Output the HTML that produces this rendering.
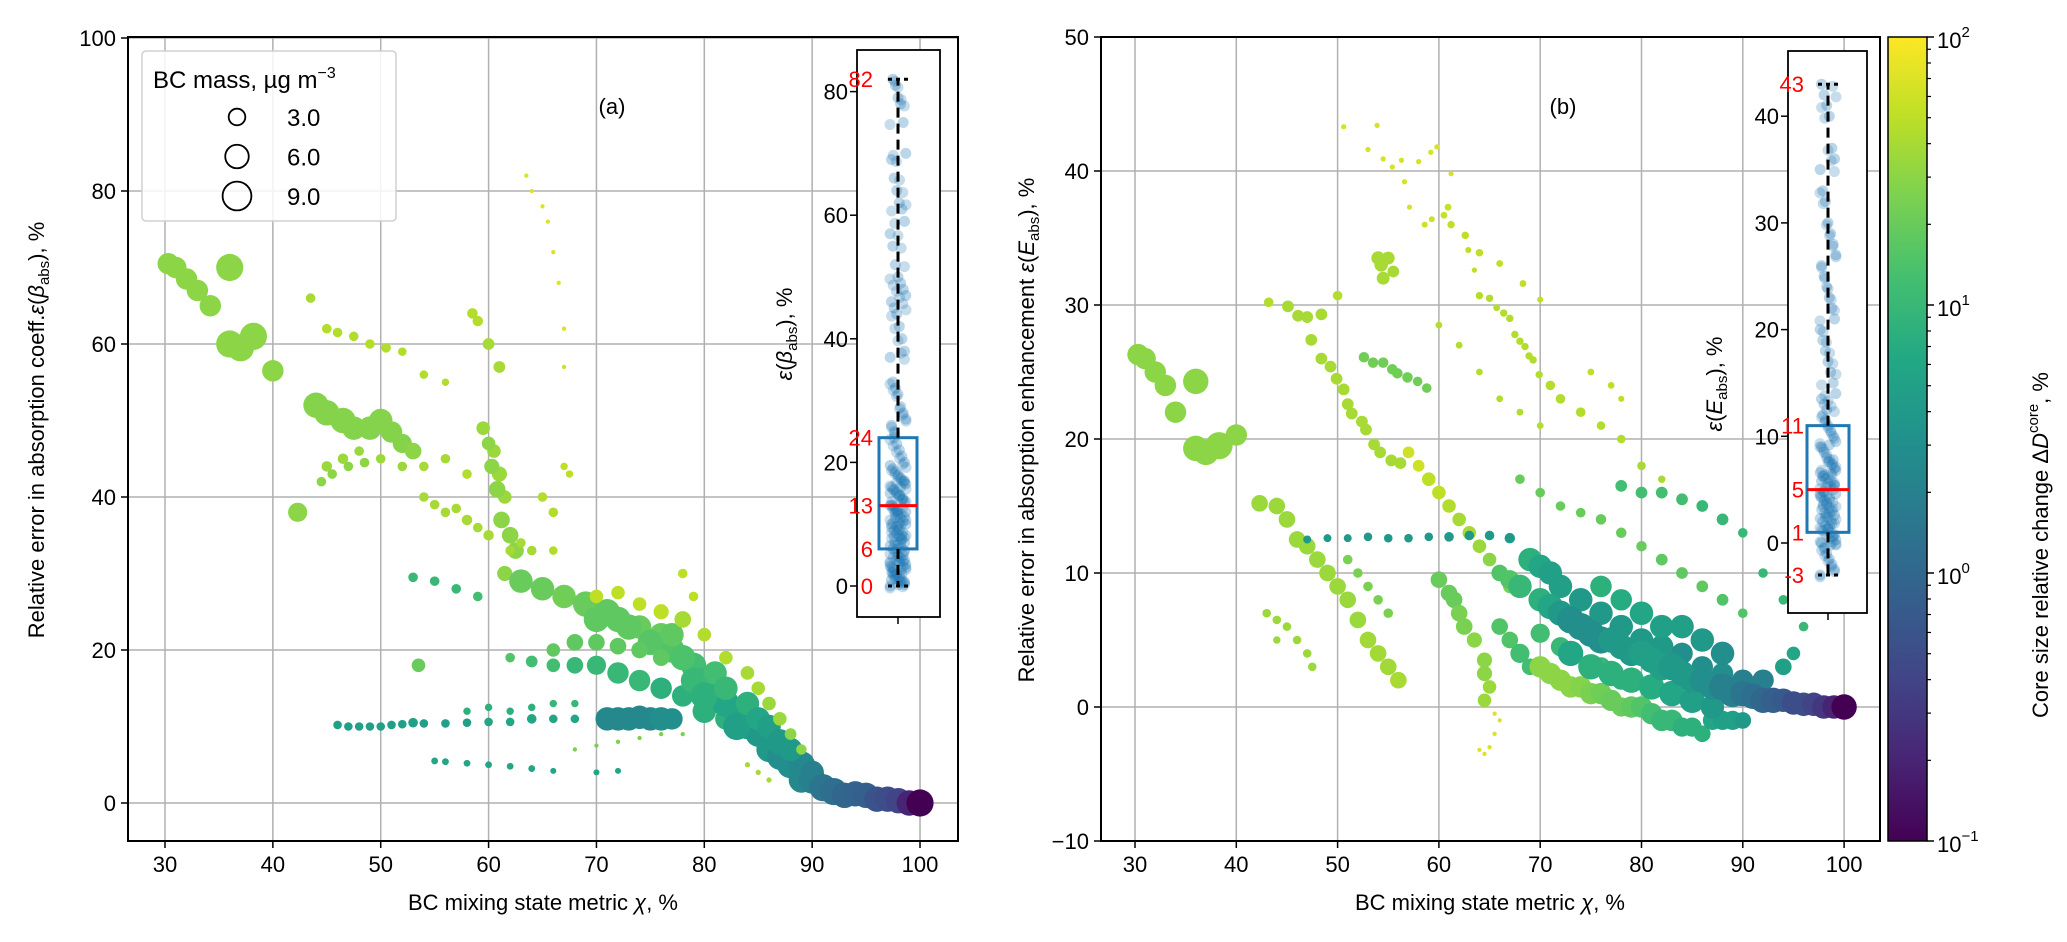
<!DOCTYPE html>
<html><head><meta charset="utf-8"><style>
html,body{margin:0;padding:0;background:#fff;}
svg{display:block;font-family:"Liberation Sans","DejaVu Sans",sans-serif;}
</style></head><body>
<svg id="fig" width="2067" height="942" viewBox="0 0 2067 942" xmlns="http://www.w3.org/2000/svg">
<defs>
<clipPath id="clipA"><rect x="128" y="37" width="830" height="804"/></clipPath>
<clipPath id="clipB"><rect x="1101" y="37" width="779" height="804"/></clipPath>
<linearGradient id="vir" x1="0" y1="1" x2="0" y2="0">
<stop offset="0" stop-color="#440154"/><stop offset="0.1" stop-color="#482475"/><stop offset="0.2" stop-color="#414487"/><stop offset="0.3" stop-color="#355f8d"/><stop offset="0.4" stop-color="#2a788e"/><stop offset="0.5" stop-color="#21918c"/><stop offset="0.6" stop-color="#22a884"/><stop offset="0.7" stop-color="#44bf70"/><stop offset="0.8" stop-color="#7ad151"/><stop offset="0.9" stop-color="#bddf26"/><stop offset="1" stop-color="#fde725"/>
</linearGradient>
</defs>
<g id="gridA"></g>
<g id="gridB"></g>
<g id="ptsA" clip-path="url(#clipA)"></g>
<g id="ptsB" clip-path="url(#clipB)"></g>
<g id="axes"></g>
</svg>
<script>
// ---- data: [chi %, error %, BC mass, core size change %] ----
const pointsA = [
[30.3,70.5,5,30],[31,70,5,30],[32,68.5,5,30],[33,67,5,30],[34.2,65,5,30],[36,70,8,30],[36,60,8,30],[37,59.5,8,30],[38.2,61,8,30],[40,56.5,5,30],[42.3,38,4,30],[43.5,66,1,40],
[44,52,7,28],[45,51,7,28],[46.5,50,7,28],[47.5,49,6,28],[49,49,6,28],[50,50,6,28],[51,48.5,5,28],[52,47,4,28],[53,46,3,30],
[45,62,1,45],[46,61.5,1,45],[47.5,61,1,45],[49,60,1,45],[50.5,59.5,1,45],[52,59,0.8,45],[54,56,0.8,45],[56,55,0.6,45],
[45,44,1.2,35],[46.5,45,1.2,35],[48,46,1,35],[50,45,1,35],[52,44,1,35],[54,44,1,40],[56,45,1,40],[58,43,1,45],
[44.5,42,1,30],[45.5,43,1,30],[47,44,1,30],[48.5,44.5,1,30],
[58.5,64,1.2,45],[59,63,1.2,45],[60,60,1.5,40],[61,57,1.5,40],[59.5,49,2,35],[60.5,46,2,35],[61,43,2.5,35],[61.5,40,2,35],[62,35,3,30],[62.5,33,3,30],[61.5,30,2.5,30],
[60,47,2,30],[60.3,44,2.5,30],[60.8,41,3,30],[61.2,37,3,30],
[63.5,82,0.2,70],[64,80,0.2,70],[65,78,0.2,70],[65.5,76,0.2,70],[66,72,0.2,70],[66.5,68,0.2,70],[67,62,0.2,70],[67,57,0.2,60],
[54,40,1,40],[56,38,1,40],[58,37,1.2,40],[60,35,1.2,40],[62,33,1,40],[65,40,1,45],[66,38,1,45],[67,44,0.6,50],[67.5,43,0.6,50],
[55,39,1,40],[57,38.5,1,40],[59,36,1,40],[63,34,1,40],[64,33,1,40],[66,33,0.8,45],
[53,29.5,1,10],[55,29,1,10],[57,28,1,10],[59,27,1,12],[53.5,18,2,20],
[62,19,1,15],[64,18.5,1.5,12],[66,18,2,12],[68,18,3,10],[70,18,4,10],[72,17,5,10],[74,16,5,10],[76,15,5,8],[78,14,5,8],[80,12,6,8],[82,11,5,8],[84,10,5,6],[86,8,4,6],
[63,29,6,20],[65,28,6,20],[67,27,6,22],[69,26,7,20],[70,24,7,18],[72,24,7,18],[74,23,6,20],[76,22,6,20],[77,20,7,15],[79,18,7,12],[80,16,7,10],[81,14,7,8],[82,13,8,6],[83,12,8,6],[84,10,7,5],[85,9,7,4],[86,7,7,4],[87,6,7,3],[88,5,8,3],[89,5,8,2.5],
[71,25,7,18],[73,23,7,18],[75,21,7,16],[77,22,6,18],[78,19,7,14],[79,16,7,10],[80,14,8,8],[81,17,6,12],[82,15,6,10],[83,10,8,5],[84,13,6,8],[85,11,6,6],[86,10,6,5],[87,8,7,4],[88,7,6,4],[89,3,7,2.5],[90,4,6,2],
[66,20,2,18],[68,21,3,18],[70,21,3,18],[72,20.5,3,18],[74,20,3,18],[76,19,3,18],
[70,27,2,50],[72,27.5,2,50],[74,26,2,50],[76,25,2.5,50],[78,24,3,40],[78,30,1,50],[79,27,1,50],[80,22,2,45],[82,19,2,45],[84,17,2,40],[85,15,2,40],[86,13,2,35],[87,11,2,35],[88,9,1.5,30],[89,7,1.2,30],
[46,10.2,0.8,5],[47,10,0.8,5],[48,10,0.8,5],[49,10,0.8,5],[50,10,0.8,5],[51,10.2,0.8,5],[52,10.3,0.8,5],[53,10.5,1,5],[54,10.4,0.8,5],[56,10.4,0.8,5],[58,10.5,0.8,5],[60,10.6,0.8,6],[62,10.6,0.8,6],[64,11,1,6],[66,11,0.8,6],[68,11,0.8,6],
[71,11,6,2.5],[72,11,6,2.5],[73,11,6,2.5],[74,11.2,6,2.5],[75,11,6,2.5],[76,11,6,3],[77,11,5,3],
[58,12,0.6,8],[60,12.5,0.6,8],[62,12,0.6,8],[64,12.5,0.6,8],[66,13,0.6,10],[68,13,0.6,10],
[55,5.5,0.5,6],[56,5.4,0.5,6],[58,5.2,0.5,6],[60,5,0.5,6],[62,4.8,0.5,6],[64,4.5,0.5,6],[66,4.2,0.4,6],[70,4,0.4,6],[72,4.2,0.4,6],
[68,7,0.2,25],[70,7.5,0.2,25],[72,8,0.2,25],[74,8.5,0.2,25],[76,9,0.2,25],[78,9,0.2,25],[84,5,0.3,40],[85,4,0.3,40],[86,3,0.3,40],
[90,3,8,2],[91,2,8,1.5],[92,1.5,8,1.2],[93,1,7,1],[94,1.2,7,0.9],[95,1,7,0.8],[96,0.5,7,0.6],[97,0.5,7,0.5],[98,0.3,7,0.4],[99,0,7,0.2],[100,0,8,0.1]
];
const pointsB = [
[30.3,26.3,5,30],[31,26,5,30],[32,25,5,30],[33,24,5,30],[34,22,5,30],[36,24.3,7,30],[36,19.3,7,30],[37,19,7,30],[38.3,19.5,8,30],[40,20.3,5,30],
[42.3,15.2,3,35],[44,15,3,35],[45,14,3,35],[46,12.5,3,35],[47,12,3,35],[48,11,3,35],[49,10,3,35],[50,9,3,35],[51,8,3,35],[52,6.5,3,35],[53,5,3,38],[54,4,3,38],[55,3,3,38],[56,2,3,40],
[43.2,30.2,1,45],[50,30.7,1,45],[45.1,29.9,1.5,40],[46.1,29.2,1.5,40],[47,29.1,1.5,40],[48.4,29.3,1.5,40],[47.4,27.4,1.5,40],[48.4,26,1.5,40],[49.3,25.4,1.5,40],[49.9,24.5,1.5,40],[50.6,23.7,1.5,40],[51,22.6,1.5,40],[51.4,21.9,1.5,40],[52.4,21.3,1.5,40],[52.8,20.7,1.5,40],[53.6,19.6,1.5,40],[54.2,19,1.5,40],[55.3,18.4,1.5,40],[56.2,18.2,1.5,40],
[52.6,26.1,1.2,22],[53.5,25.7,1.2,22],[54.5,25.7,1.2,22],[55.4,25.2,1.2,22],[55.9,24.9,1.2,22],[56.9,24.6,1.2,22],[57.9,24.3,1,22],[58.8,23.8,1,22],
[54,33.5,2,40],[54.3,33,2,40],[54.5,32,1.8,40],[55,33.5,1.8,40],[55.5,32.5,1.5,40],
[50.6,43.3,0.3,65],[53.9,43.4,0.3,65],[53,41.6,0.3,65],[54.5,40.9,0.3,65],[55.4,40.3,0.3,65],[56.3,40.8,0.3,65],[58,40.7,0.3,65],[59.2,41.4,0.3,65],[59.8,41.8,0.3,65],[61.2,39.8,0.3,65],[56.6,39.2,0.3,65],[57.1,37.3,0.3,65],[58.6,36,0.4,60],[59.3,36.4,0.4,60],[60.5,36.7,0.5,55],[60.9,37.3,0.5,55],[61.2,36,0.6,50],[62.6,35.2,0.6,50],[62.9,34.1,0.4,50],[64,33.9,0.6,50],[63.5,32.6,0.3,50],[66,33.1,0.5,50],[68.3,31.6,0.5,50],[70,30.4,0.4,50],
[64,30.7,0.6,45],[65,30.5,0.6,45],[65.7,29.8,0.5,45],[66.4,29.4,0.6,45],[67,29,0.6,45],[67.5,27.8,0.6,45],[68,27.3,0.6,45],[68.5,26.9,0.6,45],[68.9,26.2,0.6,45],[69.3,25.9,0.6,45],[69.9,24.8,0.6,45],
[71,24,1,45],[72,23,1,45],[74,22,1,45],[76,21,0.8,45],[78,20,0.8,45],[80,18,0.8,40],[82,17,0.6,40],
[60,28.5,0.5,45],[62,27,0.5,45],[64,25,0.5,45],[66,23,0.5,45],[68,22,0.5,45],[70,21,0.5,45],[75,25,0.5,50],[77,24,0.5,50],[78,23,0.4,50],
[57,19,1.5,60],[58,18,1.5,60],[59,17,2,50],[60,16,2,50],[61,15,2,45],[62,14,2,40],[63,13,2,40],[64,12,2,35],[65,11,2,30],[66,10,2,30],[67,9,2,25],
[47,12.5,0.7,4],[49,12.6,0.7,4],[51,12.6,0.7,4],[53,12.7,0.8,4],[55,12.6,0.8,4],[57,12.6,0.8,4],[59,12.7,0.8,4],[61,12.7,1,4],[63,12.8,1,4],[65,12.8,1,4],[67,12.6,1.2,4],
[43,7,0.8,35],[44,6.5,0.8,35],[45,6,0.8,35],[46,5,0.8,35],[47,4,0.8,35],[47.5,3,0.8,35],[44,5,0.6,35],
[51,11,1,25],[52,10,1,25],[53,9,1,25],[54,8,1,25],[55,7,1,25],
[60,9.5,3,20],[61,8.5,3,20],[61.5,8,3,20],[62,7,3,25],[62.5,6,3,25],[63.5,5,2.5,30],[64.5,3.5,2.5,30],[64.5,2.5,2.5,30],[65,1.5,2,35],[64.5,0.5,2,35],
[65.5,-0.5,0.2,70],[66,-1,0.2,70],[65.5,-2,0.2,70],[65,-3,0.2,70],[64.5,-3.5,0.2,70],[64,-3.2,0.2,70],
[68,17,1,20],[70,16,1,20],[72,15,1,20],[74,14.5,1,20],[76,14,1.2,20],[78,13,1.2,20],[80,12,1.2,20],[82,11,1.5,18],[84,10,1.5,18],[86,9,1.5,18],[88,8,1.5,15],[90,7,1,15],
[78,16.5,1.5,12],[80,16,1.5,12],[82,16,1.5,12],[84,15.5,1.5,12],[86,15,1.5,10],[88,14,1.5,10],[90,13,1,10],[92,10,1,10],[94,8,1,10],[96,6,1,10],
[66,6,3,15],[67,5,3,15],[68,4,4,12],[69,3,3,12],[70,5.5,4,12],[72,4.5,4,10],[76,3,4,10],[78,2,4,8],
[70,3,5,30],[71,2.5,5,30],[72,2,5,30],[73,1.5,5,30],[74,1.5,5,28],[75,1,5,25],[76,1,5,22],[77,0.5,5,20],[78,0,4,20],[79,0,5,18],[80,0,5,15],[81,-0.5,5,12],[82,-1,5,10],[83,-1,5,10],[84,-1.5,4,8],[85,-1.5,4,8],[86,-2,3,8],[87,-1,4,6],[88,-1,4,5],[89,-1,4,5],[90,-1,3,4],
[66,10,3,15],[67,9.5,4,15],[69,11,6,8],[70,10.5,6,6],[71,10,6,5],[72,9,6,5],[74,8,6,4],[76,7,6,4],[78,6,6,4],[80,5,6,4],[82,4.5,6,4],[84,4,5,3],[86,3,5,3],[88,2.5,5,3],[90,2,5,2],[92,2,5,2],[94,3,3,5],[95,4,2,6],
[73,4,7,6],[75,3,7,8],[77,2.5,7,8],[79,2,7,8],[81,1.5,7,7],[83,1,7,6],[85,0.5,7,5],[87,0,6,4],[80,7,6,6],[82,6,6,5],[84,6,6,5],[86,5,6,4],[88,4,6,3],[76,9,5,8],[78,8,5,7],
[68,9,6,10],[70,8,6,8],[71,7.5,7,6],[72,7,7,4],[73,6.5,8,3],[74,6,8,3],[75,5.5,8,3],[76,5,8,3],[77,5,7,4],[78,4.5,7,4],[79,4,7,4],[80,4,7,5],[81,3.5,7,5],[82,3,8,5],[83,3,8,4],[84,2.5,7,4],[85,2,7,4],[86,2,7,3],[87,1.5,7,3],[88,1.5,8,2],[89,1,8,2],[90,1,7,1.5],[91,0.8,7,1.2],[92,0.5,7,1],[93,0.5,7,0.8],[94,0.5,6,0.7],[95,0.3,6,0.5],[96,0.2,6,0.5],[97,0.2,6,0.4],[98,0,6,0.3],[99,0,6,0.2],[100,0,7,0.1]
];
const xTicks = [30,40,50,60,70,80,90,100];
const yTicksA = [0,20,40,60,80,100];
const yTicksB = [-10,0,10,20,30,40,50];
const insetTicksA = [0,20,40,60,80];
const insetTicksB = [0,10,20,30,40];
const statsA = [0,6,13,24,82];   // min, q1, median, q3, max
const statsB = [-3,1,5,11,43];
const insetValsA = [0,0.5,1,1.5,2,2.5,3,3.5,4,4.5,5,5.5,6,6.5,7,7.5,8,8.5,9,9.5,10,10.5,11,11.5,12,12.5,13,13.5,14,14.5,15,15.5,16,16.5,17,17.5,18,18.5,19,19.5,20,21,22,23,24,1,3,5,7,9,11,13,15,17,2,4,6,8,10,12,14,16,0.2,1.2,2.2,3.2,4.2,8.2,10.2,12.2,25,26,27,28,29,31,32,33,37,38,40,42,44,45,46,47,48,49,50,52,55,57,59,61,62,64,66,69,70,75,78,79,81,82];
const insetValsB = [-3,-2.5,-2,-1.5,-1,-0.5,0,0.3,0.6,1,1.3,1.6,2,2.3,2.6,3,3.3,3.6,4,4.3,4.6,5,5.3,5.6,6,6.3,6.6,7,7.3,7.6,8,8.5,9,9.5,10,10.5,11,11.5,12,0.1,0.8,1.8,2.8,3.8,4.8,5.8,6.8,7.8,-0.2,1.4,2.4,3.4,4.4,5.4,6.4,9.2,12.5,13,13.5,14,15,16,17,18,19,20,21,22,23,24,25,26,27,28,29,30,32,33,35,36,37,40,41,42,43];
const cbarTicks = [-1,0,1,2];
const legendMass = [3.0,6.0,9.0];

// ---- geometry ----
const NS='http://www.w3.org/2000/svg';
const xA=v=>165+(v-30)*10.786, yA=v=>803-v*7.65;
const xB=v=>1135+(v-30)*10.13, yB=v=>707-v*13.4;
const yIa=v=>586-v*6.18, yIb=v=>543-v*10.67;
const yC=l=>841-(l+1)*268;
const rad=m=>4.8*Math.sqrt(m);
const V=[[68,1,84],[72,36,117],[65,68,135],[53,95,141],[42,120,142],[33,145,140],[34,168,132],[68,191,112],[122,209,81],[189,223,38],[253,231,37]];
function vir(c){let t=(Math.log10(c)+1)/3;t=Math.max(0,Math.min(1,t))*10;const i=Math.min(9,Math.floor(t)),f=t-i;const a=V[i],b=V[i+1];return 'rgb('+a.map((x,k)=>Math.round(x+(b[k]-x)*f)).join(',')+')';}
function el(tag,attrs,parent,text){const e=document.createElementNS(NS,tag);for(const k in attrs)e.setAttribute(k,attrs[k]);if(text!==undefined)e.textContent=text;parent.appendChild(e);return e;}
const ax=document.getElementById('axes');

// grids
const gA=document.getElementById('gridA'),gB=document.getElementById('gridB');
xTicks.forEach(t=>{el('line',{x1:xA(t),x2:xA(t),y1:37,y2:841,stroke:'#b0b0b0','stroke-width':1.5},gA);el('line',{x1:xB(t),x2:xB(t),y1:37,y2:841,stroke:'#b0b0b0','stroke-width':1.5},gB);});
yTicksA.forEach(t=>el('line',{x1:128,x2:958,y1:yA(t),y2:yA(t),stroke:'#b0b0b0','stroke-width':1.5},gA));
yTicksB.forEach(t=>el('line',{x1:1101,x2:1880,y1:yB(t),y2:yB(t),stroke:'#b0b0b0','stroke-width':1.5},gB));

// scatter
const pA=document.getElementById('ptsA'),pB=document.getElementById('ptsB');
pointsA.forEach(p=>{const c=el('circle',{cx:xA(p[0]),cy:yA(p[1]),r:rad(p[2]),fill:vir(p[3])},pA);

});
pointsB.forEach(p=>{const c=el('circle',{cx:xB(p[0]),cy:yB(p[1]),r:rad(p[2]),fill:vir(p[3])},pB);

});

// axes frames & ticks
el('rect',{x:128,y:37,width:830,height:804,fill:'none',stroke:'#000','stroke-width':2},ax);
el('rect',{x:1101,y:37,width:779,height:804,fill:'none',stroke:'#000','stroke-width':2},ax);
const ts='font-size:22px;fill:#000';
xTicks.forEach(t=>{
 el('line',{x1:xA(t),x2:xA(t),y1:841,y2:848,stroke:'#000','stroke-width':1.5},ax);
 const a=el('text',{x:xA(t),y:872,'text-anchor':'middle',style:ts},ax,String(t));
 
 
 el('line',{x1:xB(t),x2:xB(t),y1:841,y2:848,stroke:'#000','stroke-width':1.5},ax);
 const b=el('text',{x:xB(t),y:872,'text-anchor':'middle',style:ts},ax,String(t));
 
 
});
yTicksA.forEach(t=>{el('line',{x1:121,x2:128,y1:yA(t),y2:yA(t),stroke:'#000','stroke-width':1.5},ax);
 const a=el('text',{x:116,y:yA(t)+8,'text-anchor':'end',style:ts},ax,String(t));
 
 });
yTicksB.forEach(t=>{el('line',{x1:1094,x2:1101,y1:yB(t),y2:yB(t),stroke:'#000','stroke-width':1.5},ax);
 const b=el('text',{x:1089,y:yB(t)+8,'text-anchor':'end',style:ts},ax,String(t).replace('-','\u2212'));
 
 });

// insets
function inset(name,bx,bw,by,bh,yf,ticks,stats,vals,cx,hw,labX,labY,labHtml,redX){
 const g=el('g',{},ax);
 
 
 el('rect',{x:bx,y:by,width:bw,height:bh,fill:'#fff',stroke:'#000','stroke-width':1.8},g);
 vals.forEach((v,i)=>{
  const j=((i*37)%13-6)*1.3;
  el('circle',{cx:cx+j,cy:yf(v),r:5.5,fill:'#1f77b4','fill-opacity':0.3},g);
  const k=((i*53)%11-5)*1.6;
  el('circle',{cx:cx+k,cy:yf(v)+2,r:5.5,fill:'#1f77b4','fill-opacity':0.25},g);
 });
 el('rect',{x:cx-hw,y:yf(stats[3]),width:2*hw,height:yf(stats[1])-yf(stats[3]),fill:'none',stroke:'#1f77b4','stroke-width':3},g);
 el('line',{x1:cx-hw,x2:cx+hw,y1:yf(stats[2]),y2:yf(stats[2]),stroke:'#ff0000','stroke-width':3},g);
 el('line',{x1:cx,x2:cx,y1:yf(stats[3]),y2:yf(stats[4]),stroke:'#000','stroke-width':3,'stroke-dasharray':'10,6'},g);
 el('line',{x1:cx,x2:cx,y1:yf(stats[1]),y2:yf(stats[0]),stroke:'#000','stroke-width':3,'stroke-dasharray':'10,6'},g);
 el('line',{x1:cx-10,x2:cx+10,y1:yf(stats[4]),y2:yf(stats[4]),stroke:'#000','stroke-width':3,'stroke-dasharray':'4,4'},g);
 el('line',{x1:cx-10,x2:cx+10,y1:yf(stats[0]),y2:yf(stats[0]),stroke:'#000','stroke-width':3,'stroke-dasharray':'4,4'},g);
 el('line',{x1:cx,x2:cx,y1:by+bh,y2:by+bh+7,stroke:'#000','stroke-width':1.5},g);
 ticks.forEach(t=>{el('line',{x1:bx-7,x2:bx,y1:yf(t),y2:yf(t),stroke:'#000','stroke-width':1.5},g);
  el('text',{x:bx-9,y:yf(t)+8,'text-anchor':'end',style:ts},g,String(t));});
 stats.forEach(s=>{const r=el('text',{x:redX,y:yf(s)+8,'text-anchor':'end',style:'font-size:22px;fill:#ff0000'},g,String(s));
  
  });
 const l=el('text',{transform:'translate('+labX+','+labY+') rotate(-90)','text-anchor':'middle',style:'font-size:22px'},g);
 l.innerHTML=labHtml;
}
inset('inset-box-a',857,83,50,567,yIa,insetTicksA,statsA,insetValsA,898,19,792,334,'<tspan font-style="italic">ε</tspan>(<tspan font-style="italic">β</tspan><tspan font-size="15" dy="5">abs</tspan><tspan dy="-5">), %</tspan>',873);
inset('inset-box-b',1788,79,51,562,yIb,insetTicksB,statsB,insetValsB,1828,21,1722,384,'<tspan font-style="italic">ε</tspan>(<tspan font-style="italic">E</tspan><tspan font-size="15" dy="5">abs</tspan><tspan dy="-5">), %</tspan>',1804);

// legend
const lg=el('g',{},ax);


el('rect',{x:142,y:51,width:254,height:170,rx:4,fill:'#fff','fill-opacity':0.85,stroke:'#d0d0d0','stroke-width':1.5},lg);
const lt=el('text',{x:153,y:88,style:'font-size:24px'},lg);
lt.innerHTML='BC mass, µg m<tspan font-size="16" dy="-10">−3</tspan>';
legendMass.forEach((m,i)=>{const cy=117+i*39.5;el('circle',{cx:237,cy:cy,r:rad(m),fill:'none',stroke:'#000','stroke-width':1.8},lg);
 const t=el('text',{x:287,y:cy+9,style:'font-size:24px'},lg,m.toFixed(1));
 
 });

// colorbar
const cb=el('g',{},ax);


el('rect',{x:1888,y:37,width:39,height:804,fill:'url(#vir)',stroke:'#000','stroke-width':1.5},cb);
cbarTicks.forEach(l=>{el('line',{x1:1927,x2:1934,y1:yC(l),y2:yC(l),stroke:'#000','stroke-width':1.5},cb);
 const t=el('text',{x:1937,y:yC(l)+11,style:'font-size:22px'},cb);
 t.innerHTML='10<tspan font-size="15" dy="-11">'+(l<0?'−1':l)+'</tspan>';});
for(let d=-1;d<2;d++)for(let k=2;k<10;k++){const y=yC(d+Math.log10(k));el('line',{x1:1927,x2:1931,y1:y,y2:y,stroke:'#000','stroke-width':1.2},cb);}

// labels
function lab(html,attrs,name){const t=el('text',attrs,ax);t.innerHTML=html;
 
 }
lab('BC mixing state metric <tspan font-style="italic">χ</tspan>, %',{x:543,y:910,'text-anchor':'middle',style:'font-size:22px'},'x-axis-title-a');
lab('BC mixing state metric <tspan font-style="italic">χ</tspan>, %',{x:1490,y:910,'text-anchor':'middle',style:'font-size:22px'},'x-axis-title-b');
lab('Relative error in absorption coeff.<tspan font-style="italic">ε</tspan>(<tspan font-style="italic">β</tspan><tspan font-size="15" dy="5">abs</tspan><tspan dy="-5">), %</tspan>',{transform:'translate(44,430) rotate(-90)','text-anchor':'middle',style:'font-size:22px'},'y-axis-title-a');
lab('Relative error in absorption enhancement <tspan font-style="italic">ε</tspan>(<tspan font-style="italic">E</tspan><tspan font-size="15" dy="5">abs</tspan><tspan dy="-5">), %</tspan>',{transform:'translate(1034,430) rotate(-90)','text-anchor':'middle',style:'font-size:22px'},'y-axis-title-b');
lab('Core size relative change Δ<tspan font-style="italic">D</tspan><tspan font-size="15" dy="-10">core</tspan><tspan dy="10">, %</tspan>',{transform:'translate(2048,545) rotate(-90)','text-anchor':'middle',style:'font-size:22px'},'colorbar-title');
lab('(a)',{x:612,y:114,'text-anchor':'middle',style:'font-size:22px'},'panel-label-a');
lab('(b)',{x:1563,y:114,'text-anchor':'middle',style:'font-size:22px'},'panel-label-b');
</script>
</body></html>
